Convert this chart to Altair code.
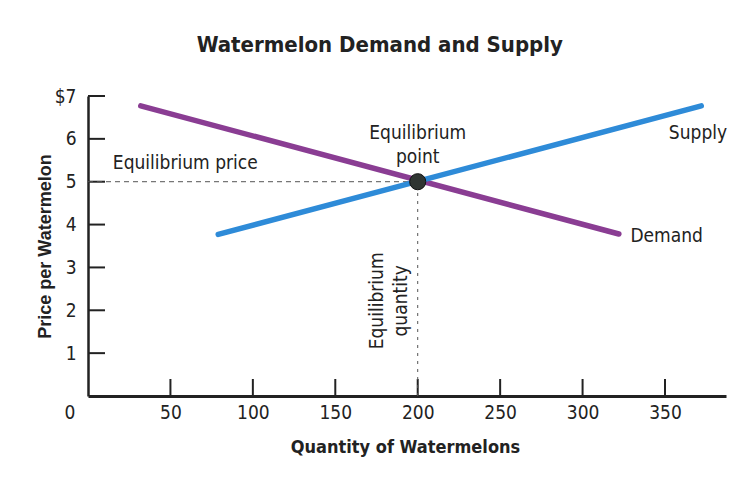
import altair as alt
import pandas as pd

# ---- data ----
demand_q = [32, 322]
demand_p = [6.77, 3.78]
supply_q = [79, 372]
supply_p = [3.77, 6.77]
eq_q = [200]
eq_p = [5.0]
x_ticks = [50, 100, 150, 200, 250, 300, 350]
y_ticks = [1, 2, 3, 4, 5, 6, 7]

ann_text = ["Equilibrium price", "Equilibrium", "point", "Supply", "Demand"]
ann_q = [59, 200, 200, 370, 351]
ann_p = [5.44, 6.14, 5.58, 6.14, 3.73]

rot_text = ["Equilibrium", "quantity"]
rot_q = [175, 190]
rot_p = [2.22, 2.22]

title_text = ["Watermelon Demand and Supply"]
title_q = [177]
title_p = [8.19]

NARROW = "DejaVu Sans Condensed, sans-serif"
INK = "#222222"
XMAX = 387

lines_df = pd.DataFrame({
    "q": demand_q + supply_q,
    "p": demand_p + supply_p,
    "curve": ["Demand"] * len(demand_q) + ["Supply"] * len(supply_q),
})
eq_df = pd.DataFrame({"q": eq_q, "p": eq_p})
hdash_df = pd.DataFrame({"q": [0], "q2": eq_q, "p": eq_p})
vdash_df = pd.DataFrame({"q": eq_q, "p": [0], "p2": eq_p})
xt_df = pd.DataFrame({"q": x_ticks})
yt_df = pd.DataFrame({"p": y_ticks})
ann_df = pd.DataFrame({"t": ann_text, "q": ann_q, "p": ann_p})
rot_df = pd.DataFrame({"t": rot_text, "q": rot_q, "p": rot_p})
zero_df = pd.DataFrame({"t": ["0"], "q": [0], "p": [0]})
title_df = pd.DataFrame({"t": title_text, "q": title_q, "p": title_p})

xs = alt.Scale(domain=[0, XMAX], nice=False, zero=False)
ys = alt.Scale(domain=[0, 7], nice=False, zero=False)

x_axis = alt.Axis(
    values=x_ticks, grid=False, ticks=False, domainColor=INK, domainWidth=3,
    labelFont=NARROW, labelFontSize=19, labelColor=INK, labelPadding=7,
    title="Quantity of Watermelons", titleFont=NARROW, titleFontSize=18,
    titleFontWeight="bold", titleColor=INK, titleX=317, titleY=51,
    titleBaseline="middle", titleAlign="center",
)
y_axis = alt.Axis(
    values=y_ticks, grid=False, ticks=False, domainColor=INK, domainWidth=2.5,
    labelFont=NARROW, labelFontSize=19, labelColor=INK, labelPadding=12,
    labelExpr="datum.value == 7 ? '$7' : datum.label",
    title="Price per Watermelon", titleFont="Liberation Sans, Arial, sans-serif",
    titleFontSize=18, titleFontWeight="bold", titleColor=INK,
    titleX=-43, titleY=150, titleAngle=270, titleBaseline="middle", titleAlign="center",
)

base_x = alt.X("q:Q", scale=xs, axis=x_axis)
base_y = alt.Y("p:Q", scale=ys, axis=y_axis)

xticks = alt.Chart(xt_df).mark_rule(color=INK, strokeWidth=2).encode(
    x=alt.X("q:Q", scale=xs), y=alt.value(300), y2=alt.value(283)
)
yticks = alt.Chart(yt_df).mark_rule(color=INK, strokeWidth=2).encode(
    y=alt.Y("p:Q", scale=ys), x=alt.value(0), x2=alt.value(17)
)
hdash = alt.Chart(hdash_df).mark_rule(color="#555555", strokeWidth=1, strokeDash=[5, 4]).encode(
    x=alt.X("q:Q", scale=xs), x2="q2:Q", y=alt.Y("p:Q", scale=ys)
)
vdash = alt.Chart(vdash_df).mark_rule(color="#555555", strokeWidth=1, strokeDash=[3, 5]).encode(
    x=alt.X("q:Q", scale=xs), y=alt.Y("p:Q", scale=ys), y2="p2:Q"
)
curves = alt.Chart(lines_df).mark_line(strokeWidth=5.5, strokeCap="round").encode(
    x=base_x, y=base_y,
    color=alt.Color("curve:N", scale=alt.Scale(domain=["Demand", "Supply"],
                                                range=["#8a3d93", "#2e8bd8"]), legend=None),
    order=alt.Order("curve:N"),
)
point = alt.Chart(eq_df).mark_point(
    filled=True, shape="circle", size=260, color="#2f3532", stroke="#111111",
    strokeWidth=1, opacity=1
).encode(x=alt.X("q:Q", scale=xs), y=alt.Y("p:Q", scale=ys))
ann = alt.Chart(ann_df).mark_text(
    font=NARROW, fontSize=19, color=INK, align="center", baseline="middle"
).encode(x=alt.X("q:Q", scale=xs), y=alt.Y("p:Q", scale=ys), text="t:N")
rot = alt.Chart(rot_df).mark_text(
    font=NARROW, fontSize=19, color=INK, align="center", baseline="middle", angle=270
).encode(x=alt.X("q:Q", scale=xs), y=alt.Y("p:Q", scale=ys), text="t:N")
zero = alt.Chart(zero_df).mark_text(
    font=NARROW, fontSize=19, color=INK, align="center", baseline="middle", dx=-18, dy=17
).encode(x=alt.X("q:Q", scale=xs), y=alt.Y("p:Q", scale=ys), text="t:N")
title = alt.Chart(title_df).mark_text(
    font=NARROW, fontSize=22, fontWeight="bold", color=INK, align="center", baseline="middle"
).encode(x=alt.X("q:Q", scale=xs), y=alt.Y("p:Q", scale=ys), text="t:N")

chart = alt.layer(xticks, yticks, hdash, vdash, curves, point, ann, rot, zero, title).properties(
    width=638, height=300,
    autosize=alt.AutoSizeParams(type="none"),
    padding={"left": 80, "top": 88, "right": 12, "bottom": 70},
    background="white",
).configure_view(stroke=None)

chart.save("out.html", embed_options={"renderer": "svg", "actions": False})
